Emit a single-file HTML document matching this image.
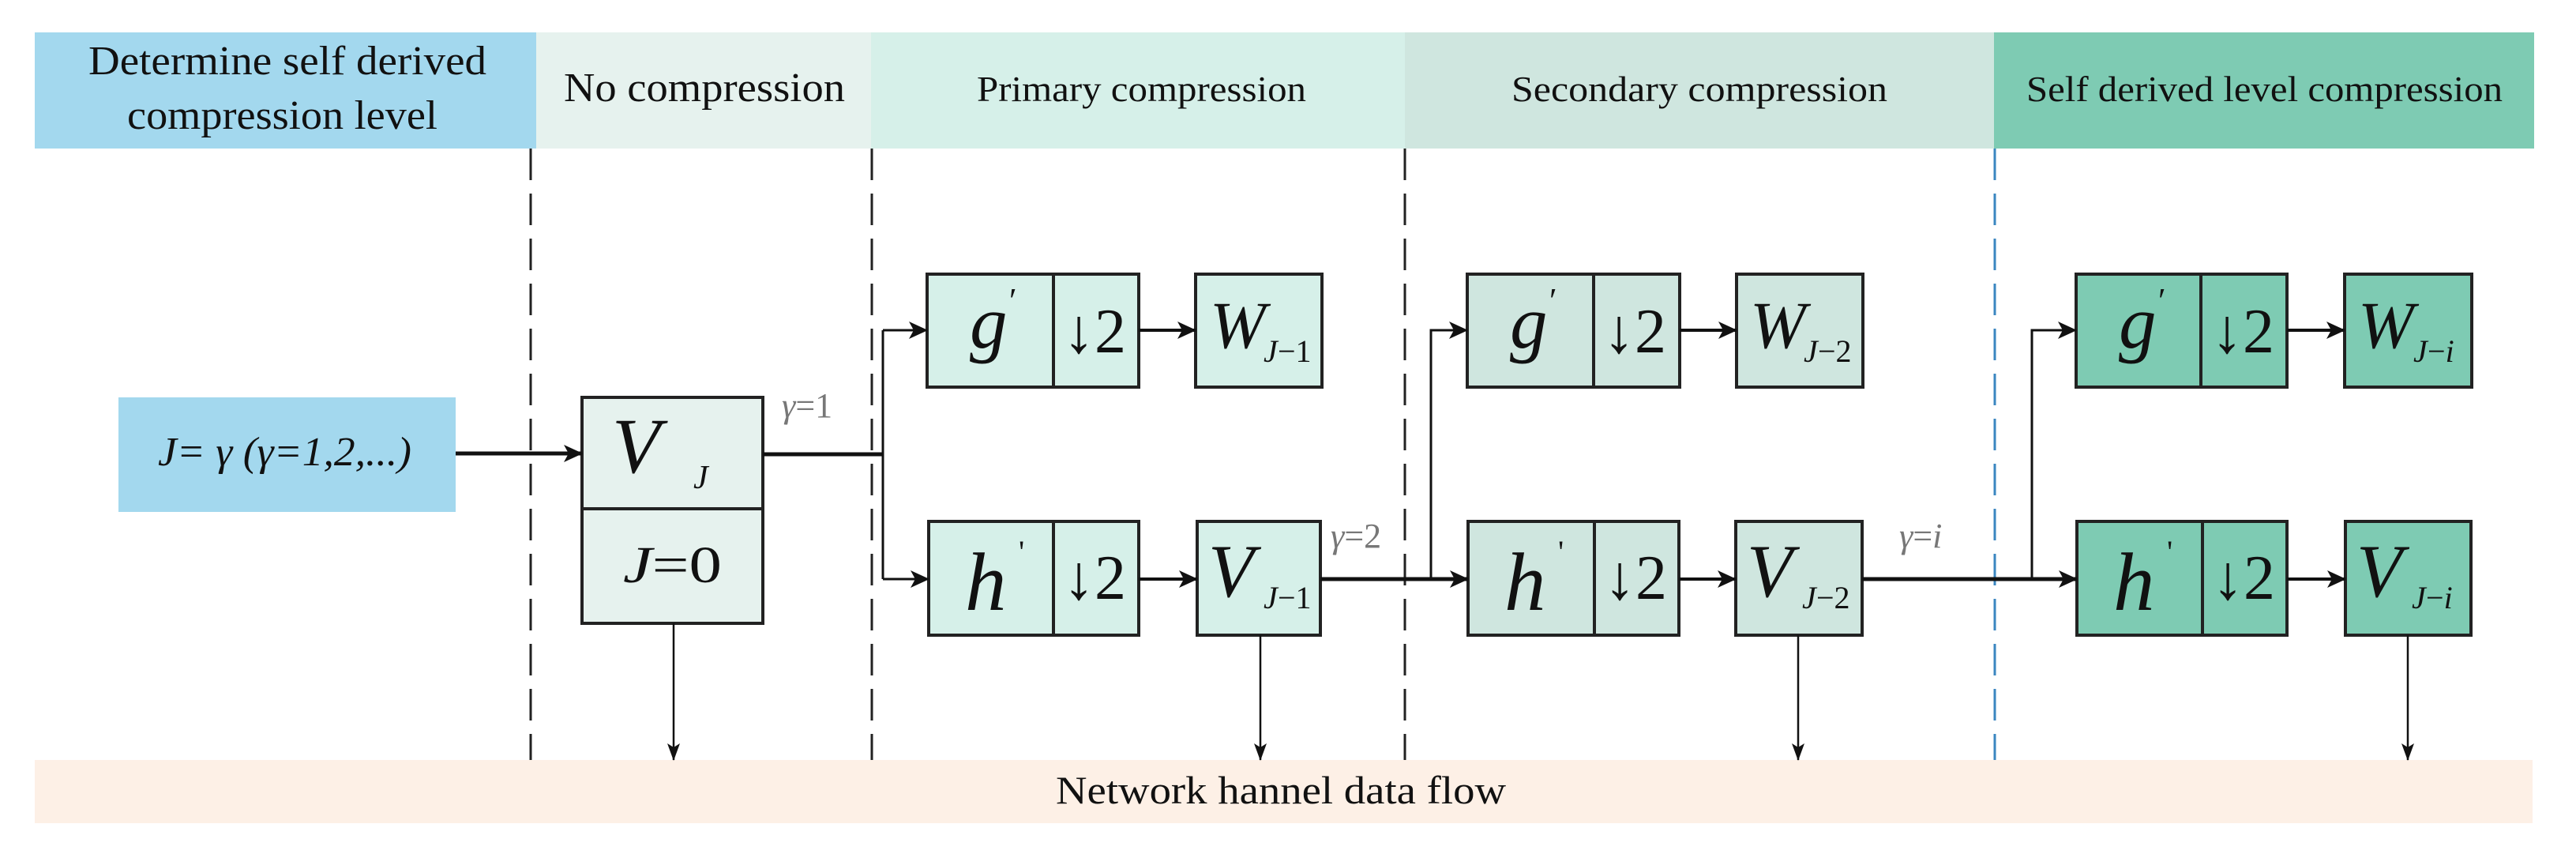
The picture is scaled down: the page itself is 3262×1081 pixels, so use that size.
<!DOCTYPE html>
<html><head><meta charset="utf-8"><style>html,body{margin:0;padding:0;background:#fff}svg{display:block}</style></head>
<body>
<svg width="3262" height="1081" viewBox="0 0 3262 1081" xmlns="http://www.w3.org/2000/svg" font-family="'Liberation Serif', serif">
<defs>
<marker id="ah" markerWidth="24" markerHeight="22" refX="23" refY="11" orient="auto" markerUnits="userSpaceOnUse" viewBox="0 0 24 22"><path d="M0,0 L24,11 L0,22 L6,11 Z" fill="#111"/></marker>
<marker id="ad" markerWidth="22" markerHeight="16" refX="21" refY="8" orient="auto" markerUnits="userSpaceOnUse" viewBox="0 0 22 16"><path d="M0,0 L22,8 L0,16 L5,8 Z" fill="#111"/></marker>
</defs>
<!-- headers -->
<rect x="44" y="41" width="635" height="147" fill="#a3d8ee"/>
<rect x="679" y="41" width="424" height="147" fill="#e6f2ee"/>
<rect x="1103" y="41" width="676" height="147" fill="#d6f0e9"/>
<rect x="1779" y="41" width="746" height="147" fill="#cfe6df"/>
<rect x="2525" y="41" width="684" height="147" fill="#7ecbb3"/>
<g fill="#111">
<text x="112" y="94" font-size="52" textLength="504" lengthAdjust="spacingAndGlyphs">Determine self derived</text>
<text x="161" y="163" font-size="52" textLength="393" lengthAdjust="spacingAndGlyphs">compression level</text>
<text x="714" y="128" font-size="52" textLength="356" lengthAdjust="spacingAndGlyphs">No compression</text>
<text x="1237" y="128" font-size="46" textLength="417" lengthAdjust="spacingAndGlyphs">Primary compression</text>
<text x="1914" y="128" font-size="46" textLength="476" lengthAdjust="spacingAndGlyphs">Secondary compression</text>
<text x="2566" y="128" font-size="46" textLength="603" lengthAdjust="spacingAndGlyphs">Self derived level compression</text>
</g>
<!-- bottom band -->
<rect x="44" y="962" width="3163" height="80" fill="#fdf0e6"/>
<text x="1337" y="1017" font-size="50" fill="#111" textLength="570" lengthAdjust="spacingAndGlyphs">Network hannel data flow</text>
<!-- dashed lines -->
<g stroke-width="3" stroke-dasharray="40 17" fill="none">
<line x1="672" y1="188" x2="672" y2="962" stroke="#222"/>
<line x1="1104" y1="188" x2="1104" y2="962" stroke="#222"/>
<line x1="1779" y1="188" x2="1779" y2="962" stroke="#222"/>
<line x1="2526" y1="188" x2="2526" y2="962" stroke="#3a86c0"/>
</g>
<!-- J box -->
<rect x="150" y="503" width="427" height="145" fill="#a3d8ee"/>
<text x="200" y="589" font-size="52" font-style="italic" fill="#111" textLength="321" lengthAdjust="spacingAndGlyphs">J= γ (γ=1,2,...)</text>
<!-- boxes -->
<g stroke="#222" stroke-width="4">
<rect x="737" y="503" width="229" height="286" fill="#e6f2ee"/>
<line x1="737" y1="644" x2="966" y2="644"/>
<rect x="1174" y="347" width="268" height="143" fill="#d6f0e9"/>
<line x1="1334" y1="347" x2="1334" y2="490"/>
<rect x="1514" y="347" width="160" height="143" fill="#d6f0e9"/>
<rect x="1176" y="660" width="266" height="144" fill="#d6f0e9"/>
<line x1="1334" y1="660" x2="1334" y2="804"/>
<rect x="1516" y="660" width="156" height="144" fill="#d6f0e9"/>
<rect x="1858" y="347" width="269" height="143" fill="#cfe6df"/>
<line x1="2018" y1="347" x2="2018" y2="490"/>
<rect x="2199" y="347" width="160" height="143" fill="#cfe6df"/>
<rect x="1859" y="660" width="267" height="144" fill="#cfe6df"/>
<line x1="2019" y1="660" x2="2019" y2="804"/>
<rect x="2198" y="660" width="160" height="144" fill="#cfe6df"/>
<rect x="2629" y="347" width="267" height="143" fill="#7ecbb3"/>
<line x1="2787" y1="347" x2="2787" y2="490"/>
<rect x="2969" y="347" width="161" height="143" fill="#7ecbb3"/>
<rect x="2630" y="660" width="266" height="144" fill="#7ecbb3"/>
<line x1="2789" y1="660" x2="2789" y2="804"/>
<rect x="2970" y="660" width="159" height="144" fill="#7ecbb3"/>
</g>
<!-- connectors -->
<g stroke="#111" fill="none">
<line x1="577" y1="574" x2="737" y2="574" stroke-width="5" marker-end="url(#ah)"/>
<line x1="966" y1="575" x2="1118" y2="575" stroke-width="5"/>
<polyline points="1118,733 1118,418" stroke-width="3"/>
<polyline points="1118,418 1174,418" stroke-width="3" marker-end="url(#ah)"/>
<polyline points="1118,733 1176,733" stroke-width="3" marker-end="url(#ah)"/>
<line x1="1442" y1="418" x2="1514" y2="418" stroke-width="4" marker-end="url(#ah)"/>
<line x1="1442" y1="733" x2="1516" y2="733" stroke-width="4" marker-end="url(#ah)"/>
<line x1="1672" y1="733" x2="1812" y2="733" stroke-width="5"/>
<polyline points="1812,733 1812,418 1858,418" stroke-width="3" marker-end="url(#ah)"/>
<line x1="1812" y1="733" x2="1859" y2="733" stroke-width="5" marker-end="url(#ah)"/>
<line x1="2127" y1="418" x2="2199" y2="418" stroke-width="4" marker-end="url(#ah)"/>
<line x1="2126" y1="733" x2="2198" y2="733" stroke-width="4" marker-end="url(#ah)"/>
<line x1="2358" y1="733" x2="2573" y2="733" stroke-width="5"/>
<polyline points="2573,733 2573,418 2629,418" stroke-width="3" marker-end="url(#ah)"/>
<line x1="2573" y1="733" x2="2630" y2="733" stroke-width="5" marker-end="url(#ah)"/>
<line x1="2896" y1="418" x2="2969" y2="418" stroke-width="4" marker-end="url(#ah)"/>
<line x1="2896" y1="733" x2="2970" y2="733" stroke-width="4" marker-end="url(#ah)"/>
<line x1="853" y1="789" x2="853" y2="962" stroke-width="2.5" marker-end="url(#ad)"/>
<line x1="1596" y1="804" x2="1596" y2="962" stroke-width="2.5" marker-end="url(#ad)"/>
<line x1="2277" y1="804" x2="2277" y2="962" stroke-width="2.5" marker-end="url(#ad)"/>
<line x1="3049" y1="804" x2="3049" y2="962" stroke-width="2.5" marker-end="url(#ad)"/>
</g>
<!-- gamma labels -->
<g fill="#777" font-size="44">
<text x="990" y="528"><tspan font-style="italic">γ</tspan>=1</text>
<text x="1685" y="693"><tspan font-style="italic">γ</tspan>=2</text>
<text x="2405" y="693"><tspan font-style="italic">γ</tspan>=<tspan font-style="italic">i</tspan></text>
</g>
<!-- box labels -->
<g fill="#111">
<text x="775" y="598" font-size="100" font-style="italic">V</text>
<text x="878" y="618" font-size="42" font-style="italic">J</text>
<text x="789" y="737" font-size="66" textLength="125" lengthAdjust="spacingAndGlyphs"><tspan font-style="italic">J</tspan>=0</text>

<text x="1228" y="440" font-size="95" font-style="italic">g</text><text x="1278" y="395" font-size="44">′</text>
<text x="1346" y="446" font-size="80">↓2</text>
<text x="1532" y="440" font-size="85" font-style="italic">W</text><text x="1600" y="458" font-size="40" font-style="italic">J</text><text x="1618" y="458" font-size="40">−1</text>
<text x="1222" y="772" font-size="105" font-style="italic">h</text><text x="1290" y="712" font-size="40">'</text>
<text x="1346" y="758" font-size="80">↓2</text>
<text x="1530" y="755" font-size="95" font-style="italic">V</text><text x="1600" y="770" font-size="40" font-style="italic">J</text><text x="1618" y="770" font-size="40">−1</text>

<text x="1912" y="440" font-size="95" font-style="italic">g</text><text x="1962" y="395" font-size="44">′</text>
<text x="2030" y="446" font-size="80">↓2</text>
<text x="2216" y="440" font-size="85" font-style="italic">W</text><text x="2284" y="458" font-size="40" font-style="italic">J</text><text x="2302" y="458" font-size="40">−2</text>
<text x="1905" y="772" font-size="105" font-style="italic">h</text><text x="1973" y="712" font-size="40">'</text>
<text x="2031" y="758" font-size="80">↓2</text>
<text x="2212" y="755" font-size="95" font-style="italic">V</text><text x="2282" y="770" font-size="40" font-style="italic">J</text><text x="2300" y="770" font-size="40">−2</text>

<text x="2683" y="440" font-size="95" font-style="italic">g</text><text x="2733" y="395" font-size="44">′</text>
<text x="2800" y="446" font-size="80">↓2</text>
<text x="2986" y="440" font-size="85" font-style="italic">W</text><text x="3056" y="458" font-size="40" font-style="italic">J</text><text x="3074" y="458" font-size="40">−<tspan font-style="italic">i</tspan></text>
<text x="2676" y="772" font-size="105" font-style="italic">h</text><text x="2744" y="712" font-size="40">'</text>
<text x="2801" y="758" font-size="80">↓2</text>
<text x="2984" y="755" font-size="95" font-style="italic">V</text><text x="3054" y="770" font-size="40" font-style="italic">J</text><text x="3072" y="770" font-size="40">−<tspan font-style="italic">i</tspan></text>
</g>
</svg>
</body></html>
